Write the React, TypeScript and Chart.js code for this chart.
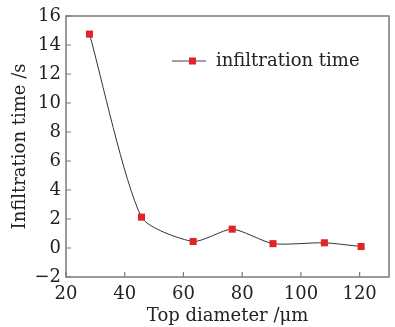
import React, { useEffect, useRef } from "react";
import { Chart, registerables } from "chart.js";

Chart.register(...registerables);

const diameters = [28, 45.7, 63.3, 76.6, 90.5, 108, 120.5];
const infiltrationTimes = [14.75, 2.13, 0.45, 1.3, 0.3, 0.36, 0.1];
const seriesLabel = "infiltration time";
const xTitle = "Top diameter /\u03bcm";
const yTitle = "Infiltration time /s";

const FONT = "'DejaVu Serif', serif";
const TEXT = "#222";
const AXIS = "#7a7a7a";
const RED = "#e3232a";

const framePlugin = {
  id: "frame",
  afterDraw(chart: any) {
    const { ctx, chartArea: a, scales } = chart;
    ctx.save();
    ctx.strokeStyle = AXIS;
    ctx.lineWidth = 1.5;
    ctx.strokeRect(a.left, a.top, a.right - a.left, a.bottom - a.top);
    ctx.lineWidth = 1.2;
    ctx.beginPath();
    scales.x.ticks.forEach((t: any) => {
      const px = scales.x.getPixelForValue(t.value);
      ctx.moveTo(px, a.bottom);
      ctx.lineTo(px, a.bottom - 5);
    });
    scales.y.ticks.forEach((t: any) => {
      const py = scales.y.getPixelForValue(t.value);
      ctx.moveTo(a.left, py);
      ctx.lineTo(a.left + 5, py);
    });
    ctx.stroke();
    // legend
    const ly = 61;
    ctx.strokeStyle = "#444";
    ctx.lineWidth = 1;
    ctx.beginPath();
    ctx.moveTo(172, ly);
    ctx.lineTo(206, ly);
    ctx.stroke();
    ctx.fillStyle = RED;
    ctx.fillRect(189, ly - 3.5, 7, 7);
    ctx.fillStyle = TEXT;
    ctx.font = `18px ${FONT}`;
    ctx.textBaseline = "middle";
    ctx.textAlign = "left";
    ctx.fillText(seriesLabel, 216, ly);
    ctx.restore();
  },
};

export default function App() {
  const ref = useRef<HTMLCanvasElement>(null);
  useEffect(() => {
    const chart = new Chart(ref.current!, {
      type: "scatter",
      data: {
        datasets: [
          {
            label: seriesLabel,
            data: diameters.map((x, i) => ({ x, y: infiltrationTimes[i] })),
            showLine: true,
            tension: 0.22,
            borderColor: "#333",
            borderWidth: 1,
            backgroundColor: RED,
            pointStyle: "rect",
            pointRadius: 5,
            pointBorderWidth: 0,
          },
        ],
      },
      plugins: [framePlugin],
      options: {
        animation: false,
        responsive: false,
        layout: { padding: { top: 16, right: 6, left: 0, bottom: 0 } },
        plugins: { legend: { display: false }, tooltip: { enabled: false } },
        scales: {
          x: {
            type: "linear",
            min: 20,
            max: 130,
            grid: { display: false, drawTicks: false },
            border: { display: false },
            ticks: {
              stepSize: 20,
              includeBounds: false,
              padding: 7,
              color: TEXT,
              font: { family: FONT, size: 18 },
              maxRotation: 0,
            },
            title: {
              display: true,
              text: xTitle,
              color: TEXT,
              font: { family: FONT, size: 18 },
              padding: { top: 0, bottom: 0 },
            },
            afterFit(s: any) {
              s.height = 50;
            },
          },
          y: {
            min: -2,
            max: 16,
            grid: { display: false, drawTicks: false },
            border: { display: false },
            ticks: {
              stepSize: 2,
              padding: 5,
              color: TEXT,
              font: { family: FONT, size: 18 },
              callback: (v: any) => (v < 0 ? "\u2212" + Math.abs(v) : String(v)),
            },
            title: {
              display: true,
              text: yTitle,
              color: TEXT,
              font: { family: FONT, size: 18 },
              padding: { top: 10, bottom: 0 },
            },
            afterFit(s: any) {
              s.width = 66;
            },
          },
        },
      },
    });
    return () => chart.destroy();
  }, []);
  return (
    <div style={{ position: "fixed", left: 0, top: 0, width: 395, height: 327, background: "#fff" }}>
      <canvas ref={ref} width={395} height={327} />
    </div>
  );
}
